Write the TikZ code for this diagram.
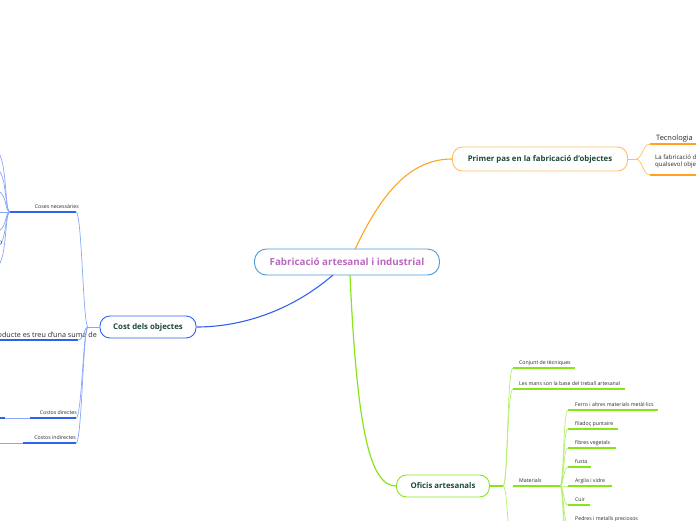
\documentclass[tikz,border=0pt]{standalone}
\usepackage{fontspec}
\setmainfont{Open Sans}
\definecolor{cblue}{HTML}{2F62F0}
\definecolor{lblue}{HTML}{8AA6F7}
\definecolor{orng}{HTML}{FFA420}
\definecolor{lorng}{HTML}{FFC060}
\definecolor{lime}{HTML}{86E61A}
\definecolor{llime}{HTML}{B4F06A}
\definecolor{dgreen}{HTML}{1C4A3A}
\definecolor{pinkt}{HTML}{B96BBE}
\definecolor{cbord}{HTML}{4C9BD9}
\definecolor{txt}{HTML}{2A2A2A}
\tikzset{
  mainbox/.style={rounded corners=10pt, line width=0.9pt, fill=white, text=dgreen,
    font=\bfseries\fontsize{7.8}{9}\selectfont, inner sep=0pt},
  small/.style={text=txt, font=\fontsize{5.2}{6}\selectfont, inner sep=0pt},
  ul/.style={line width=1.4pt},
  cn/.style={line width=0.7pt},
}
\begin{document}
\begin{tikzpicture}[x=1pt,y=-1pt]
\useasboundingbox (0,0) rectangle (696,520);
\clip (0,0) rectangle (696,520);

% ---------- main nodes ----------
\node[mainbox, draw=cbord, rounded corners=12pt, text=pinkt, minimum width=185pt, minimum height=26pt,
  font=\bfseries\fontsize{9.8}{11}\selectfont] (c) at (347,262) {Fabricació artesanal i industrial};
\node[mainbox, draw=lorng, minimum width=175pt, minimum height=24pt] (p) at (540,159) {Primer pas en la fabricació d'objectes};
\node[mainbox, draw=cblue, minimum width=96pt, minimum height=22pt] (k) at (148,327) {Cost dels objectes};
\node[mainbox, draw=lime, minimum width=93pt, minimum height=22pt] (o) at (443,486) {Oficis artesanals};

% ---------- main connectors ----------
\coordinate (ctop) at (355,249.5);
\coordinate (cbl) at (333,275);
\coordinate (cbm) at (350,275);
\draw[orng, line width=1.1pt] (ctop) .. controls (385,185) and (415,159) .. (p.west);
\draw[cblue, line width=1.1pt] (cbl) .. controls (290,312) and (240,327) .. (k.east);
\draw[lime, line width=1.2pt] (cbm) .. controls (357,430) and (370,486) .. (o.west);

% ---------- orange children ----------
\coordinate (pj) at (636,159);
\draw[lorng, cn] (p.east) -- (pj);
\coordinate (t1) at (650,144);
\coordinate (t2) at (650,175);
\draw[orng, ul] (t1) -- (700,144);
\draw[orng, ul] (t2) -- (700,175);
\draw[lorng, cn] (pj) .. controls (642,159) and (643,144) .. (t1);
\draw[lorng, cn] (pj) .. controls (642,159) and (643,175) .. (t2);
\node[text=txt, font=\fontsize{7.4}{8}\selectfont, inner sep=0pt, anchor=base west] (tec) at (656,140.5) {Tecnologia};
\node[text=txt, font=\fontsize{6.1}{7.4}\selectfont, inner sep=0pt, anchor=north west, align=left] (laf) at (655,154.5) {La fabricació de\\qualsevol objecte};

% ---------- blue children ----------
\coordinate (kj) at (88,327);
\draw[lblue, cn] (k.west) -- (kj);
% Coses necessaries
\coordinate (b1) at (76,212);
\coordinate (b1s) at (10,212);
\draw[cblue, ul] (b1s) -- (b1);
\node[small, anchor=base east] (cos) at (79,208) {Coses necessàries};
\draw[lblue, cn] (kj) .. controls (83,327) and (82,212) .. (b1);
% sub-children of Coses
\foreach \yy in {150,168,190,232,248,268}{
  \draw[lblue, cn] (b1s) .. controls (4,212) and (8,\yy) .. (-6,\yy);
}
\draw[lblue, cn] (b1s) -- (-6,212);
\node[small, text=txt, font=\fontsize{6}{7}\selectfont, anchor=base east] (frag) at (2.5,244) {n};
% producte
\coordinate (b2) at (78,340);
\draw[cblue, ul] (-5,340) -- (b2);
\node[text=txt, font=\fontsize{7.2}{8}\selectfont, inner sep=0pt, anchor=base east] (prod) at (97,337) {producte es treu d'una suma de};
\draw[lblue, cn] (kj) .. controls (84,327) and (84,340) .. (b2);
% Costos directes
\coordinate (b3) at (76,418);
\coordinate (b3s) at (30,418);
\draw[cblue, ul] (b3s) -- (b3);
\draw[lblue, cn] (b3s) -- (5,418);
\draw[cblue, ul] (-5,418) -- (5,418);
\node[small, anchor=base east] (cd) at (77,414.5) {Costos directes};
\draw[lblue, cn] (kj) .. controls (83,327) and (82,418) .. (b3);
% Costos indirectes
\coordinate (b4) at (76,443);
\coordinate (b4s) at (23,443);
\draw[cblue, ul] (b4s) -- (b4);
\draw[lblue, cn] (b4s) -- (-5,443);
\node[small, anchor=base east] (ci) at (76,439.5) {Costos indirectes};
\draw[lblue, cn] (kj) .. controls (83,327) and (82,443) .. (b4);

% ---------- green children ----------
\coordinate (oj) at (503,486);
\draw[lime, ul] (o.east) -- (oj);
\coordinate (g1) at (513,368);
\coordinate (g2) at (513,389);
\coordinate (g3) at (513,486);
\coordinate (g4) at (513,545);
\draw[lime, ul] (g1) -- (575,368);
\draw[lime, ul] (g2) -- (625,389);
\draw[lime, ul] (g3) -- (557,486);
\node[small, anchor=base west] (conj) at (519,364.5) {Conjunt de tècniques};
\node[small, anchor=base west] (mans) at (519,385.5) {Les mans son la base del treball artesanal};
\node[small, anchor=base west] (mat) at (519,482.5) {Materials};
\draw[llime, cn] (oj) .. controls (508,486) and (507,368) .. (g1);
\draw[llime, cn] (oj) .. controls (508,486) and (507,389) .. (g2);
\draw[llime, cn] (oj) .. controls (508,486) and (507,545) .. (g4);

% materials
\coordinate (mj) at (560,486);
\draw[lime, ul] (g3) -- (mj);
\foreach \yy/\xe/\nm/\tx in {
  410/658/m1/{Ferro i altres materials metàl·lics},
  429/618/m2/{filadoç puntaire},
  448/616/m3/{fibres vegetals},
  467/591/m4/{fusta},
  486/612/m5/{Argila i vidre},
  505/590/m6/{Cuir},
  524/650/m7/{Pedres i metalls preciosos}}{
  \coordinate (\nm) at (568,\yy);
  \draw[lime, ul] (\nm) -- (\xe,\yy);
  \node[small, anchor=base west] at (575,\yy-3.5) {\tx};
  \draw[llime, cn] (mj) .. controls (564,486) and (563,\yy) .. (\nm);
}
\foreach \yy in {543,562}{
  \draw[llime, cn] (mj) .. controls (564,486) and (563,\yy) .. (568,\yy);
}
\end{tikzpicture}
\end{document}
